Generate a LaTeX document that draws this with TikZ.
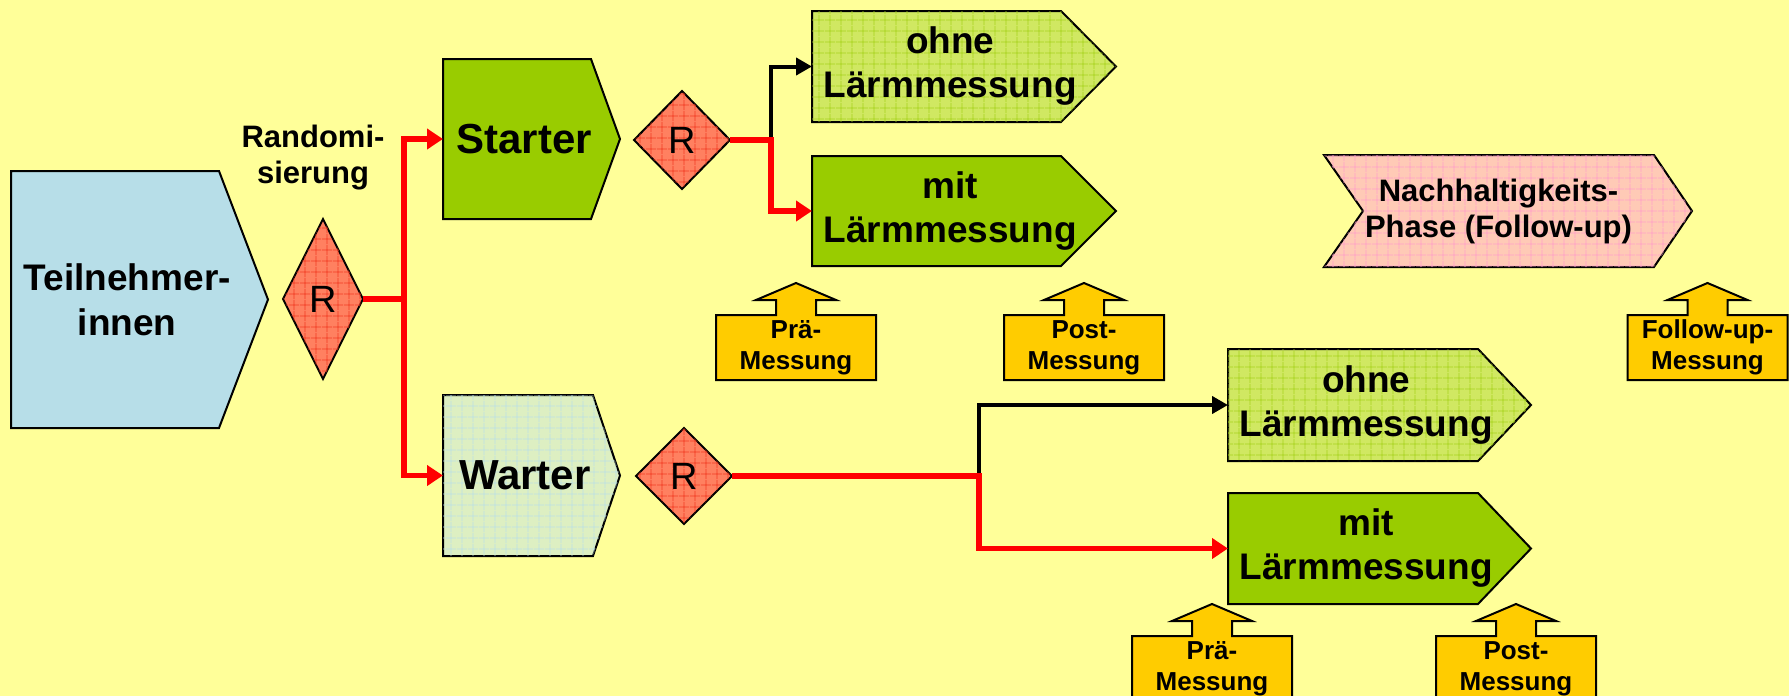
\documentclass[tikz,border=0pt]{standalone}
\usepackage{fontspec}
\setmainfont{Liberation Sans}
\usepackage{tikz}
\usetikzlibrary{positioning,arrows.meta,shapes.geometric,backgrounds,patterns.meta}

\definecolor{bgyellow}{HTML}{FFFF99}
\definecolor{teilblue}{HTML}{B7DEE8}
\definecolor{stagegreen}{HTML}{99CC00}
\definecolor{ohnegreen}{HTML}{D0E862}
\definecolor{ohnegrid}{HTML}{A8D41C}
\definecolor{warterpale}{HTML}{DDEFC2}
\definecolor{warterbluegrid}{HTML}{BCE0E4}
\definecolor{randcoral}{HTML}{FF8060}
\definecolor{randgrid}{HTML}{F23A22}
\definecolor{phasepink}{HTML}{FFCAB6}
\definecolor{phasegrid}{HTML}{FFA0C8}
\definecolor{calloutgold}{HTML}{FFCC00}
\definecolor{linkred}{HTML}{FF0000}

\begin{document}
\begin{tikzpicture}[x=1pt, y=-1pt,
    stage/.style={rectangle, inner sep=0pt, outer sep=0pt, align=center},
    stageline/.style={draw=black, line width=2pt, line join=miter},
    teilfill/.style={fill=teilblue},
    starterfill/.style={fill=stagegreen},
    ohnefill/.style={fill=ohnegreen, postaction={pattern={Hatch[distance=10.5pt,line width=0.9pt]}, pattern color=ohnegrid}},
    warterfill/.style={fill=warterpale, postaction={pattern={Hatch[distance=10.5pt,line width=0.9pt]}, pattern color=warterbluegrid}},
    phasefill/.style={fill=phasepink, postaction={pattern={Hatch[distance=10.5pt,line width=0.9pt]}, pattern color=phasegrid}},
    rnode/.style={diamond, draw=black, line width=2pt, fill=randcoral, inner sep=0pt, outer sep=0pt,
        postaction={pattern={Hatch[distance=10.5pt,line width=0.9pt]}, pattern color=randgrid},
        font=\fontsize{38}{38}\selectfont},
    callout/.style={rectangle, inner sep=0pt, outer sep=0pt, align=center, minimum width=160pt, minimum height=65pt,
        font=\fontsize{26}{31}\selectfont\bfseries},
    calloutline/.style={draw=black, line width=2pt, fill=calloutgold},
    redlink/.style={draw=linkred, line width=5.5pt, -{Triangle[length=16pt,width=20pt]}},
    blacklink/.style={draw=black, line width=4pt, -{Triangle[length=16pt,width=17pt]}}
]

\useasboundingbox (0,0) rectangle (1789,696);
\begin{scope}[on background layer]
  \fill[bgyellow] (0,0) rectangle (1789,696);
\end{scope}

% Start group and first randomisation
\node[stage, minimum width=232.5pt, minimum height=257pt, font=\fontsize{37}{45}\selectfont\bfseries] (teiln) at (127.25,299.5) {Teilnehmer-\\innen};
\node[rnode, minimum width=80pt, minimum height=160pt] (rand1) at (323,299) {R};
\node[align=center, font=\fontsize{31}{36}\selectfont\bfseries] (randlabel) at (313,158) {Randomi-\\sierung};

% Two arms
\node[stage, minimum width=162.5pt, minimum height=160pt, font=\fontsize{42}{48}\selectfont\bfseries] (starter) at (524.25,139) {Starter};
\node[stage, minimum width=163.5pt, minimum height=161pt, font=\fontsize{42}{48}\selectfont\bfseries] (warter) at (524.75,475.5) {Warter};
\node[rnode, minimum width=96pt, minimum height=98pt] (rand2) at (682,140) {R};
\node[rnode, minimum width=96pt, minimum height=96pt] (rand3) at (684,476) {R};

% Sub-groups of the starter arm
\node[stage, minimum width=276.5pt, minimum height=111pt, font=\fontsize{37}{44}\selectfont\bfseries] (ohneA) at (950.25,66.5) {ohne\\Lärmmessung};
\node[stage, minimum width=276.5pt, minimum height=110pt, font=\fontsize{37}{44}\selectfont\bfseries] (mitA) at (950.25,211) {mit\\Lärmmessung};

% Sub-groups of the waiting arm
\node[stage, minimum width=276.5pt, minimum height=112pt, font=\fontsize{37}{44}\selectfont\bfseries] (ohneB) at (1366.25,405) {ohne\\Lärmmessung};
\node[stage, minimum width=276.5pt, minimum height=111pt, font=\fontsize{37}{44}\selectfont\bfseries] (mitB) at (1366.25,548.5) {mit\\Lärmmessung};

% Follow-up phase
\node[stage, minimum width=349pt, minimum height=112pt, font=\fontsize{31}{36}\selectfont\bfseries] (phase) at (1498.5,211) {Nachhaltigkeits-\\Phase (Follow-up)};

% Measurement points
\node[callout] (praeA) at (796,347.5) {Prä-\\Messung};
\node[callout] (postA) at (1084,347.5) {Post-\\Messung};
\node[callout] (follow) at (1707.5,347.5) {Follow-up-\\Messung};
\node[callout] (praeB) at (1212,668.5) {Prä-\\Messung};
\node[callout] (postB) at (1516,668.5) {Post-\\Messung};

% Outlines behind the texts (half of the tip lies inside each node)
\begin{scope}[on background layer]
  \foreach \n/\h/\s in {teiln/24.5pt/teilfill, starter/14.5pt/starterfill, warter/13.5pt/warterfill,
      ohneA/27.5pt/ohnefill, mitA/27.5pt/starterfill, ohneB/26.5pt/ohnefill, mitB/26.5pt/starterfill}
    \draw[stageline, \s] (\n.north west) -- ([xshift=-\h]\n.north east) -- ([xshift=\h]\n.east) -- ([xshift=-\h]\n.south east) -- (\n.south west) -- cycle;
  \draw[stageline, phasefill] (phase.north west) -- ([xshift=-19pt]phase.north east) -- ([xshift=19pt]phase.east) -- ([xshift=-19pt]phase.south east) -- (phase.south west) -- ([xshift=39pt]phase.west) -- cycle;
  \foreach \c in {praeA, postA, follow, praeB, postB}
    \draw[calloutline] (\c.south west) -- (\c.north west) -- ([xshift=-20pt]\c.north) -- ++(0,-15) -- ++(-20,0) -- ++(40,-17) -- ++(40,17) -- ++(-20,0) -- ++(0,15) -- (\c.north east) -- (\c.south east) -- cycle;
\end{scope}

% Randomisation into the two arms
\draw[redlink] (rand1.east) -- ++(41,0) coordinate (br1) |- (starter.west);
\draw[redlink] (br1) |- (warter.west);

% Starter arm
\draw[blacklink] ([xshift=41pt]rand2.east) coordinate (br2) |- (ohneA.west);
\draw[redlink] (rand2.east) -- (br2) |- (mitA.west);

% Waiting arm
\draw[blacklink] ([xshift=247pt]rand3.east) coordinate (br3) |- (ohneB.west);
\draw[redlink] (rand3.east) -- (br3) |- (mitB.west);

\end{tikzpicture}
\end{document}
